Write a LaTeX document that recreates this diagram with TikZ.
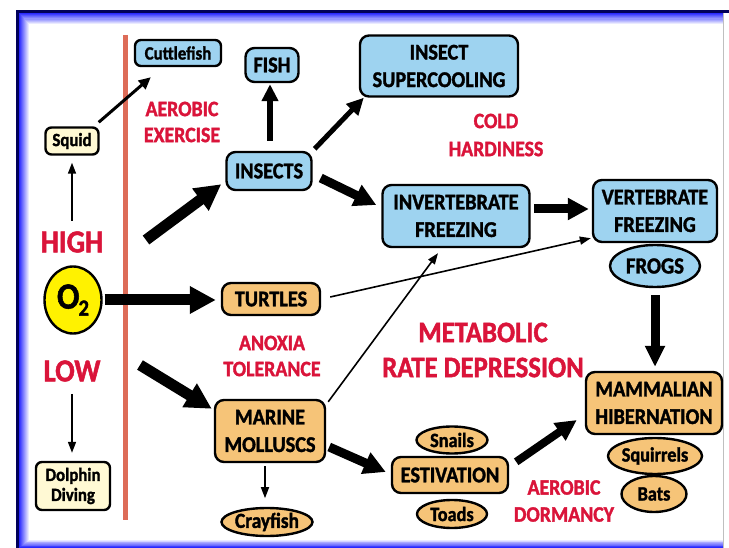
\documentclass[tikz,border=0pt]{standalone}
\usepackage{fontspec}
\setmainfont{Carlito}[BoldFeatures={FakeStretch=0.9,FakeBold=1.5}]
\usetikzlibrary{arrows.meta,shapes.geometric,calc}
\definecolor{boxblue}{RGB}{158,211,240}
\definecolor{boxorange}{RGB}{246,196,120}
\definecolor{boxcream}{RGB}{255,249,212}
\definecolor{lblred}{RGB}{218,20,58}
\definecolor{linered}{RGB}{221,108,88}
\definecolor{oyellow}{RGB}{255,242,0}
\definecolor{framenavy}{RGB}{0,0,90}
\definecolor{frameblue}{RGB}{40,40,255}
\newcommand\fsz[2]{\fontsize{#1}{#2}\selectfont}
\tikzset{
  bbox/.style={draw=black, line width=2.4pt, rounded corners=9pt, fill=boxblue, align=center, inner sep=0pt, font=\bfseries\fsz{22.5}{27.5}},
  obox/.style={bbox, fill=boxorange},
  cbox/.style={bbox, fill=boxcream, rounded corners=6pt, font=\bfseries\fsz{18.7}{20}},
  sbox/.style={bbox, rounded corners=6pt, font=\bfseries\fsz{18.7}{20}},
  oell/.style={ellipse, draw=black, line width=2.4pt, fill=boxorange, inner sep=0pt, font=\bfseries\fsz{20.3}{22}},
  bell/.style={oell, fill=boxblue, font=\bfseries\fsz{23}{24}},
  redlbl/.style={text=lblred, align=center, inner sep=0pt, font=\bfseries\fsz{22}{26}},
  bigarrow/.style={line width=11pt, -{Triangle[length=26pt,width=26pt]}},
  midarrow/.style={line width=9pt, -{Triangle[length=22pt,width=22pt]}},
  medarrow/.style={line width=6pt, -{Triangle[length=17pt,width=16pt]}},
  smallarrow/.style={line width=3pt, -{Triangle[length=12pt,width=11pt]}},
  thinarrow/.style={line width=1.6pt, -{Triangle[length=11pt,width=8pt]}},
}
\begin{document}
\begin{tikzpicture}[x=1pt,y=-1pt]
\useasboundingbox (0,0) rectangle (729,548);
% frame
\fill[white] (0,0) rectangle (729,548);
\fill[framenavy] (16,10) rectangle (729,548);
\foreach \i in {0,...,10} {
  \pgfmathsetmacro\pp{100-10*\i}
  \fill[frameblue!\pp!white] (19+\i,13+1.1*\i) rectangle (724-0.1*\i,548-0.8*\i);
}
\fill[white] (724,13) rectangle (729,548);
\draw[black!25, line width=0.8pt] (723.5,13) -- (723.5,548);
% red divider
\draw[linered, line width=5pt] (125,35) -- (125,520);

% nodes
\node[sbox, minimum width=86pt, minimum height=26pt] (cuttle) at (178,53) {Cuttlefish};
\node[cbox, minimum width=53pt, minimum height=27pt] (squid) at (72,141) {Squid};
\node[cbox, minimum width=74pt, minimum height=48pt] (dolphin) at (73,486) {Dolphin\\Diving};
\node[ellipse, draw=black, line width=2.4pt, fill=oyellow, minimum width=57pt, minimum height=67pt, inner sep=0pt, font=\bfseries\fsz{37}{37}] (o2) at (73,300) {O\kern-1pt\raisebox{-7pt}{\fsz{23}{23}2}};
\node[redlbl, font=\bfseries\fsz{32}{32}] (high) at (72,242) {HIGH};
\node[redlbl, font=\bfseries\fsz{32}{32}] (low) at (72,371) {LOW};

\node[bbox, minimum width=53pt, minimum height=34pt] (fish) at (272,65) {FISH};
\node[bbox, minimum width=85pt, minimum height=38pt] (insects) at (269,171) {INSECTS};
\node[bbox, minimum width=158pt, minimum height=61pt] (supercool) at (439,66) {INSECT\\SUPERCOOLING};
\node[bbox, minimum width=147pt, minimum height=62pt] (invfreeze) at (456,216) {INVERTEBRATE\\FREEZING};
\node[bbox, minimum width=124pt, minimum height=62pt] (vertfreeze) at (655,211) {VERTEBRATE\\FREEZING};
\node[bell, minimum width=90pt, minimum height=42pt] (frogs) at (655,266) {FROGS};

\node[obox, minimum width=98pt, minimum height=32pt] (turtles) at (271,299) {TURTLES};
\node[obox, minimum width=110pt, minimum height=62pt] (molluscs) at (270,431) {MARINE\\MOLLUSCS};
\node[oell, minimum width=91pt, minimum height=28pt, font=\bfseries\fsz{21.5}{22}] (crayfish) at (267,522) {Crayfish};
\node[obox, minimum width=116pt, minimum height=36pt] (estivation) at (450,475) {ESTIVATION};
\node[oell, minimum width=71pt, minimum height=27pt] (snails) at (452,440) {Snails};
\node[oell, minimum width=70pt, minimum height=28pt] (toads) at (452,514) {Toads};
\node[obox, minimum width=136pt, minimum height=62pt] (mammal) at (654,403) {MAMMALIAN\\HIBERNATION};
\node[oell, minimum width=90pt, minimum height=36pt] (squirrels) at (655,456) {Squirrels};
\node[oell, minimum width=65pt, minimum height=36pt] (bats) at (654,494) {Bats};

% red labels
\node[redlbl] (aerex) at (182,122) {AEROBIC\\EXERCISE};
\node[redlbl, font=\bfseries\fsz{22}{28}] (cold) at (496,135) {COLD\\HARDINESS};
\node[redlbl] (anoxia) at (272,356) {ANOXIA\\TOLERANCE};
\node[redlbl, font=\bfseries\fsz{29.7}{35}] (mrd) at (483,350) {METABOLIC\\RATE DEPRESSION};
\node[redlbl, font=\bfseries\fsz{22}{27}] (aerdorm) at (564,501) {AEROBIC\\DORMANCY};

% connectors
\draw[smallarrow] ($(squid.north east)+(-1,-4)$) -- ($(cuttle.south west)+(17,10)$);
\draw[thinarrow] ($(squid.south)+(0,65)$) -- ($(squid.south)+(0,7)$);
\draw[thinarrow] ($(dolphin.north)+(-1,-67)$) -- ($(dolphin.north)+(-1,-8)$);
\draw[bigarrow] ($(o2.east)+(2,0)$) -- ($(o2.east -| turtles.west)+(-5,0)$);
\draw[bigarrow] ($(o2.center)+(73,-60)$) -- ($(insects.south west)+(-4,-7)$);
\draw[bigarrow] ($(o2.center)+(67,65)$) -- ($(molluscs.north west)+(-2,10)$);
\draw[medarrow] ($(insects.north)+(1,-10)$) -- ($(insects.north |- fish.south)+(1,1)$);
\draw[medarrow, line width=5pt] ($(insects.north east)+(2,-2)$) -- ($(supercool.south west)+(5,0)$);
\draw[midarrow] ($(insects.east)+(8,7)$) -- ($(invfreeze.west)+(-5,-11)$);
\draw[midarrow, -{Triangle[length=21pt,width=21pt]}] ($(invfreeze.east)+(3.5,-7)$) -- ($(invfreeze.east -| vertfreeze.west)+(-3,-7)$);
\draw[thinarrow] ($(turtles.east)+(9,-2)$) -- ($(vertfreeze.south west)+(-1,-5)$);
\draw[thinarrow] ($(molluscs.north east)+(2,3)$) -- ($(invfreeze.south)+(-18,5)$);
\draw[midarrow, -{Triangle[length=21pt,width=19pt]}] ($(frogs.south)+(0,7)$) -- ($(frogs.south |- mammal.north)+(0,-4)$);
\draw[thinarrow] ($(molluscs.south)+(-5,3)$) -- ($(molluscs.south)+(-5,35)$);
\draw[midarrow] ($(molluscs.east)+(3,16)$) -- ($(estivation.west)+(-5,-3)$);
\draw[midarrow, line width=8pt, -{Triangle[length=21pt,width=20pt]}] ($(estivation.north east)+(7,6)$) -- ($(mammal.west)+(-8,17)$);
\end{tikzpicture}
\end{document}
